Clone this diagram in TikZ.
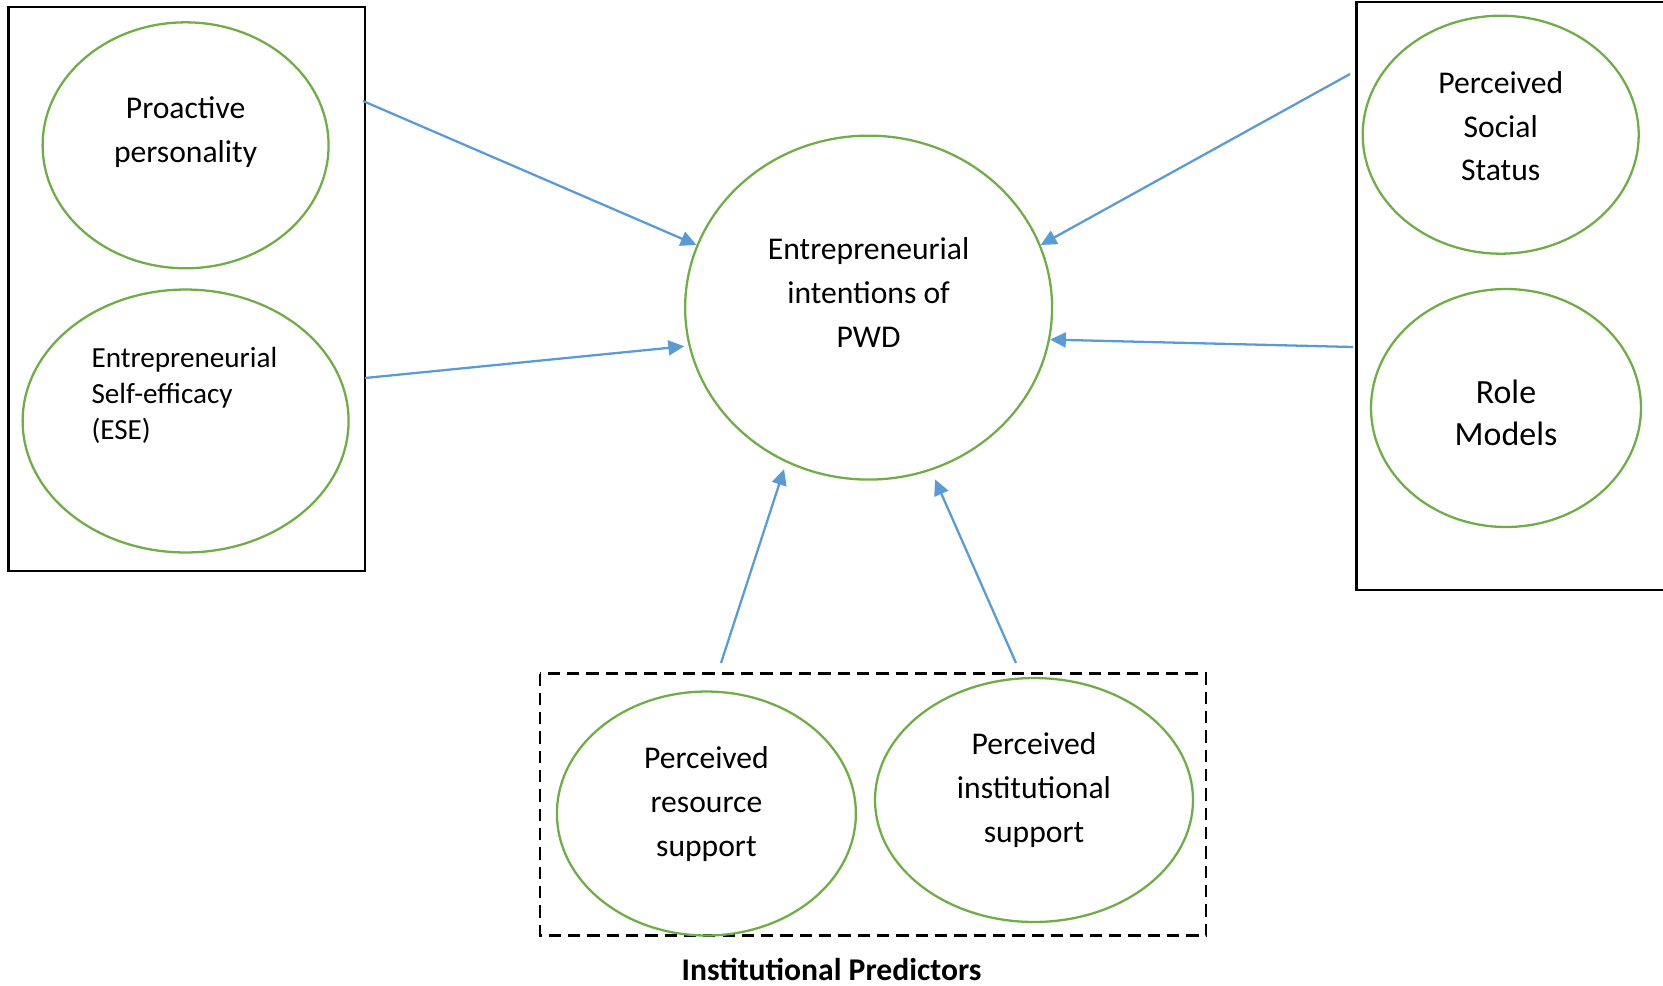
\documentclass[tikz,border=0pt]{standalone}
\usepackage{fontspec}
\setmainfont{Carlito}
\usetikzlibrary{shapes.geometric,arrows.meta,positioning}
\definecolor{ovalgreen}{RGB}{112,173,71}
\definecolor{arrowblue}{RGB}{91,155,213}

\begin{document}
\begin{tikzpicture}[
        x=0.02cm, y=-0.02cm,
        oval/.style={draw=ovalgreen, line width=1.3pt, ellipse, inner sep=0pt},
        lbl/.style={align=center, inner sep=0pt, font=\fontsize{18pt}{25pt}\selectfont},
        grpbox/.style={draw=black, line width=1.2pt},
        link/.style={draw=arrowblue, line width=1.3pt, -{Triangle[length=9pt,width=8.5pt]}}
    ]
        \useasboundingbox (0,0) rectangle (1663,985);

        % Group boxes
        \draw [grpbox] (8.5,7.4) rectangle (365,571);
        \draw [grpbox] (1356.5,2.1) rectangle (1690,589.7);
        \draw [grpbox, dash pattern=on 7pt off 4pt] (540,673.5) rectangle (1206,935.5);

        % Ovals
        \node (pro) [oval, minimum width=5.72cm, minimum height=4.92cm] at (185.6,145.3) {};
        \node (ese) [oval, minimum width=6.52cm, minimum height=5.26cm] at (185.6,421) {};
        \node (pwd) [oval, minimum width=7.34cm, minimum height=6.88cm] at (868.6,307.6) {};
        \node (pss) [oval, minimum width=5.52cm, minimum height=4.76cm] at (1500.7,134.7) {};
        \node (role) [oval, minimum width=5.4cm, minimum height=4.76cm] at (1506,408) {};
        \node (res) [oval, minimum width=5.98cm, minimum height=4.88cm] at (706.4,813.5) {};
        \node (inst) [oval, minimum width=6.36cm, minimum height=4.88cm] at (1034,800) {};

        % Texts
        \node (protxt) [lbl] at (185.6,132) {Proactive\\personality};
        \node (esetxt) [lbl, anchor=west, align=left, font=\fontsize{16.6pt}{20.4pt}\selectfont] at (91.2,395.5) {Entrepreneurial\\Self-efficacy\\(ESE)};
        \node (pwdtxt) [lbl] at (868.6,292.7) {Entrepreneurial\\intentions of\\PWD};
        \node (psstxt) [lbl] at (1500.7,126.2) {Perceived\\Social\\Status};
        \node (roletxt) [lbl, font=\fontsize{19.3pt}{24pt}\selectfont] at (1506,412.6) {Role\\Models};
        \node (restxt) [lbl] at (706.4,804) {Perceived\\resource\\support};
        \node (insttxt) [lbl] at (1034,790) {Perceived\\institutional\\support};
        \node (grptxt) [lbl, font=\fontsize{18pt}{25pt}\selectfont\bfseries] at (831.5,969.4) {Institutional Predictors};

        % Arrows into the central oval
        \coordinate (t1) at (363,101);
        \coordinate (t2) at (365,378);
        \coordinate (t3) at (1350,74);
        \coordinate (t4) at (1353,347);
        \coordinate (t5) at (721,663);
        \coordinate (t6) at (1016,663);
        \draw [link] (t1) -- (pwd.160);
        \draw [link, shorten >=2.5pt] (t2) -- (pwd.192.5);
        \draw [link] (t3) -- (pwd.20.5);
        \draw [link] (t4) -- (pwd.350);
        \draw [link, shorten >=4pt] (t5) -- (pwd.242.1);
        \draw [link, shorten >=5.5pt] (t6) -- (pwd.291.9);

    \end{tikzpicture}
\end{document}
